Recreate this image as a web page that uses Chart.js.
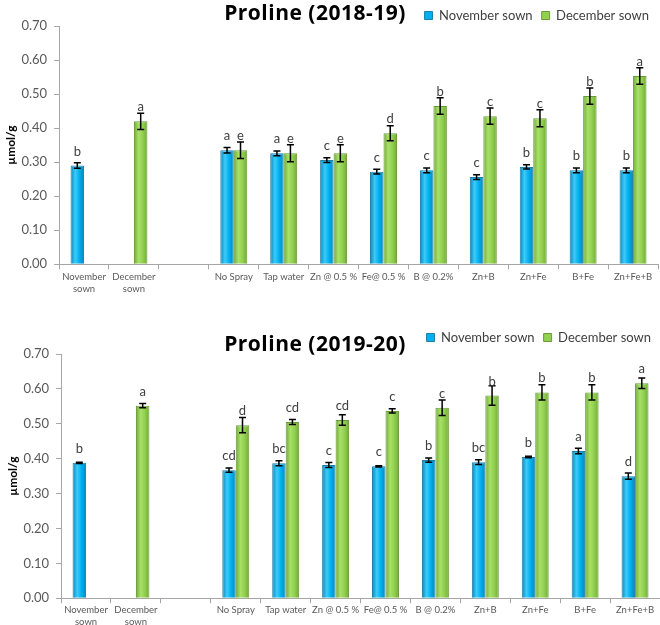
<!DOCTYPE html>
<html>
<head>
<meta charset="utf-8">
<script src="https://cdn.jsdelivr.net/npm/chart.js@4.4.1/dist/chart.umd.min.js"></script>
<style>
    body { margin: 0; background: #fff; }
    .panel { position: absolute; left: 0; width: 660px; }
    .title { position: absolute; left: 165px; width: 300px; text-align: center; font: bold 21px "Open Sans", sans-serif; letter-spacing: 0.5px; line-height: 24px; color: #000; }
</style>
</head>
<body>
<div class="panel" style="top:0;height:297px"><canvas id="chart1"></canvas></div>
<div class="panel" style="top:294px;height:331px"><canvas id="chart2"></canvas></div>
<div class="title" style="top:0px">Proline (2018-19)</div>
<div class="title" style="top:331px">Proline (2019-20)</div>
<script>
// Categories and series
const categories = [['November', 'sown'], ['December', 'sown'], '', 'No Spray', 'Tap water', 'Zn @ 0.5 %', 'Fe@ 0.5 %', 'B @ 0.2%', 'Zn+B', 'Zn+Fe', 'B+Fe', 'Zn+Fe+B'];
const seriesNames = ['November sown', 'December sown'];
const yTickValues = [0, 0.1, 0.2, 0.3, 0.4, 0.5, 0.6, 0.7];

// 2018-19
const nov18 = [0.29, null, null, 0.335, 0.326, 0.306, 0.272, 0.276, 0.256, 0.286, 0.276, 0.276];
const nov18Err = [0.008, null, null, 0.008, 0.007, 0.007, 0.007, 0.007, 0.007, 0.006, 0.007, 0.007];
const nov18Letters = ['b', '', '', 'a', 'a', 'c', 'c', 'c', 'c', 'b', 'b', 'b'];
const dec18 = [null, 0.42, null, 0.335, 0.326, 0.326, 0.385, 0.465, 0.435, 0.429, 0.494, 0.553];
const dec18Err = [null, 0.024, null, 0.024, 0.025, 0.025, 0.022, 0.024, 0.024, 0.025, 0.024, 0.024];
const dec18Letters = ['', 'a', '', 'e', 'e', 'e', 'd', 'b', 'c', 'c', 'b', 'a'];

// 2019-20
const nov19 = [0.388, null, null, 0.367, 0.387, 0.382, 0.378, 0.396, 0.39, 0.405, 0.422, 0.35];
const nov19Err = [0.002, null, null, 0.006, 0.007, 0.007, 0.002, 0.006, 0.007, 0.002, 0.008, 0.009];
const nov19Letters = ['b', '', '', 'cd', 'bc', 'c', 'c', 'b', 'bc', 'b', 'a', 'd'];
const dec19 = [null, 0.552, null, 0.496, 0.505, 0.511, 0.537, 0.546, 0.581, 0.59, 0.59, 0.616];
const dec19Err = [null, 0.006, null, 0.022, 0.007, 0.015, 0.006, 0.022, 0.028, 0.022, 0.022, 0.015];
const dec19Letters = ['', 'a', '', 'd', 'cd', 'cd', 'c', 'c', 'b', 'b', 'b', 'a'];

const colors = {
    nov: { fill: '#00B0F0', dark: '#0787B8', light: '#3CCBFA', border: '#1F7FA6' },
    dec: { fill: '#92D050', dark: '#6FAA35', light: '#A8E068', border: '#6A9A3A' },
    axis: '#A6A6A6',
    text: '#595959'
};

// Cylinder-like shading across each bar
const barShading = {
    id: 'barShading',
    beforeDatasetsDraw(chart) {
        const ctx = chart.ctx;
        chart.data.datasets.forEach((ds, i) => {
            const c = ds.shade;
            chart.getDatasetMeta(i).data.forEach(bar => {
                const half = bar.width / 2;
                const g = ctx.createLinearGradient(bar.x - half, 0, bar.x + half, 0);
                g.addColorStop(0, c.dark);
                g.addColorStop(0.35, c.light);
                g.addColorStop(0.65, c.fill);
                g.addColorStop(1, c.dark);
                bar.options = Object.assign({}, bar.options, { backgroundColor: g });
            });
        });
    }
};

// Error bars and significance letters
const errorBars = {
    id: 'errorBars',
    afterDatasetsDraw(chart) {
        const ctx = chart.ctx;
        const y = chart.scales.y;
        ctx.save();
        chart.data.datasets.forEach((ds, i) => {
            chart.getDatasetMeta(i).data.forEach((bar, j) => {
                const v = ds.data[j];
                if (v == null) return;
                const e = ds.errors[j];
                const top = y.getPixelForValue(v + e);
                const bot = y.getPixelForValue(v - e);
                ctx.strokeStyle = '#000';
                ctx.lineWidth = 1.5;
                ctx.beginPath();
                ctx.moveTo(bar.x, top); ctx.lineTo(bar.x, bot);
                ctx.moveTo(bar.x - 3.5, top); ctx.lineTo(bar.x + 3.5, top);
                ctx.moveTo(bar.x - 3.5, bot); ctx.lineTo(bar.x + 3.5, bot);
                ctx.stroke();
                ctx.fillStyle = '#404040';
                ctx.font = '13px Lato, sans-serif';
                ctx.textAlign = 'center';
                ctx.textBaseline = 'alphabetic';
                ctx.fillText(ds.letters[j], bar.x, bar.y - 10);
            });
        });
        ctx.restore();
    }
};

function makeChart(id, nov, novErr, novLet, dec, decErr, decLet, pad, legendMax, xPad) {
    return new Chart(document.getElementById(id), {
        type: 'bar',
        data: {
            labels: categories,
            datasets: [
                { label: seriesNames[0], data: nov, errors: novErr, letters: novLet, shade: colors.nov,
                  backgroundColor: colors.nov.fill, borderColor: colors.nov.border, borderWidth: 1 },
                { label: seriesNames[1], data: dec, errors: decErr, letters: decLet, shade: colors.dec,
                  backgroundColor: colors.dec.fill, borderColor: colors.dec.border, borderWidth: 1 }
            ]
        },
        options: {
            responsive: true,
            maintainAspectRatio: false,
            animation: false,
            categoryPercentage: 0.54,
            barPercentage: 1,
            layout: { padding: pad },
            plugins: {
                legend: {
                    position: 'top',
                    align: 'end',
                    maxHeight: legendMax,
                    labels: { boxWidth: 8, boxHeight: 8, padding: 9, color: '#404040', font: { family: 'Lato', size: 13 } }
                },
                tooltip: { enabled: false }
            },
            scales: {
                x: {
                    grid: { drawOnChartArea: false, color: colors.axis, tickLength: 5 },
                    border: { color: colors.axis },
                    ticks: { color: colors.text, padding: xPad, maxRotation: 0, autoSkip: false, font: { family: 'Lato', size: 9.5, lineHeight: 1.25 } }
                },
                y: {
                    min: 0,
                    max: 0.7,
                    afterBuildTicks: axis => { axis.ticks = yTickValues.map(v => ({ value: v })); },
                    grid: { drawOnChartArea: false, color: colors.axis, tickLength: 5 },
                    border: { color: colors.axis },
                    ticks: { color: colors.text, padding: 7, font: { family: 'Lato', size: 13 }, callback: v => v.toFixed(2) },
                    title: { display: true, text: 'µmol/g', color: '#000', padding: { top: 4, bottom: -4 }, font: { family: 'Lato', size: 12, weight: 'bold' } }
                }
            }
        },
        plugins: [barShading, errorBars]
    });
}

makeChart('chart1', nov18, nov18Err, nov18Letters, dec18, dec18Err, dec18Letters, { top: 0, left: 0, right: 2, bottom: 0 }, 26, 2);
makeChart('chart2', nov19, nov19Err, nov19Letters, dec19, dec19Err, dec19Letters, { top: 28, left: 2, right: 0, bottom: -4 }, 35, 1);
</script>
</body>
</html>
